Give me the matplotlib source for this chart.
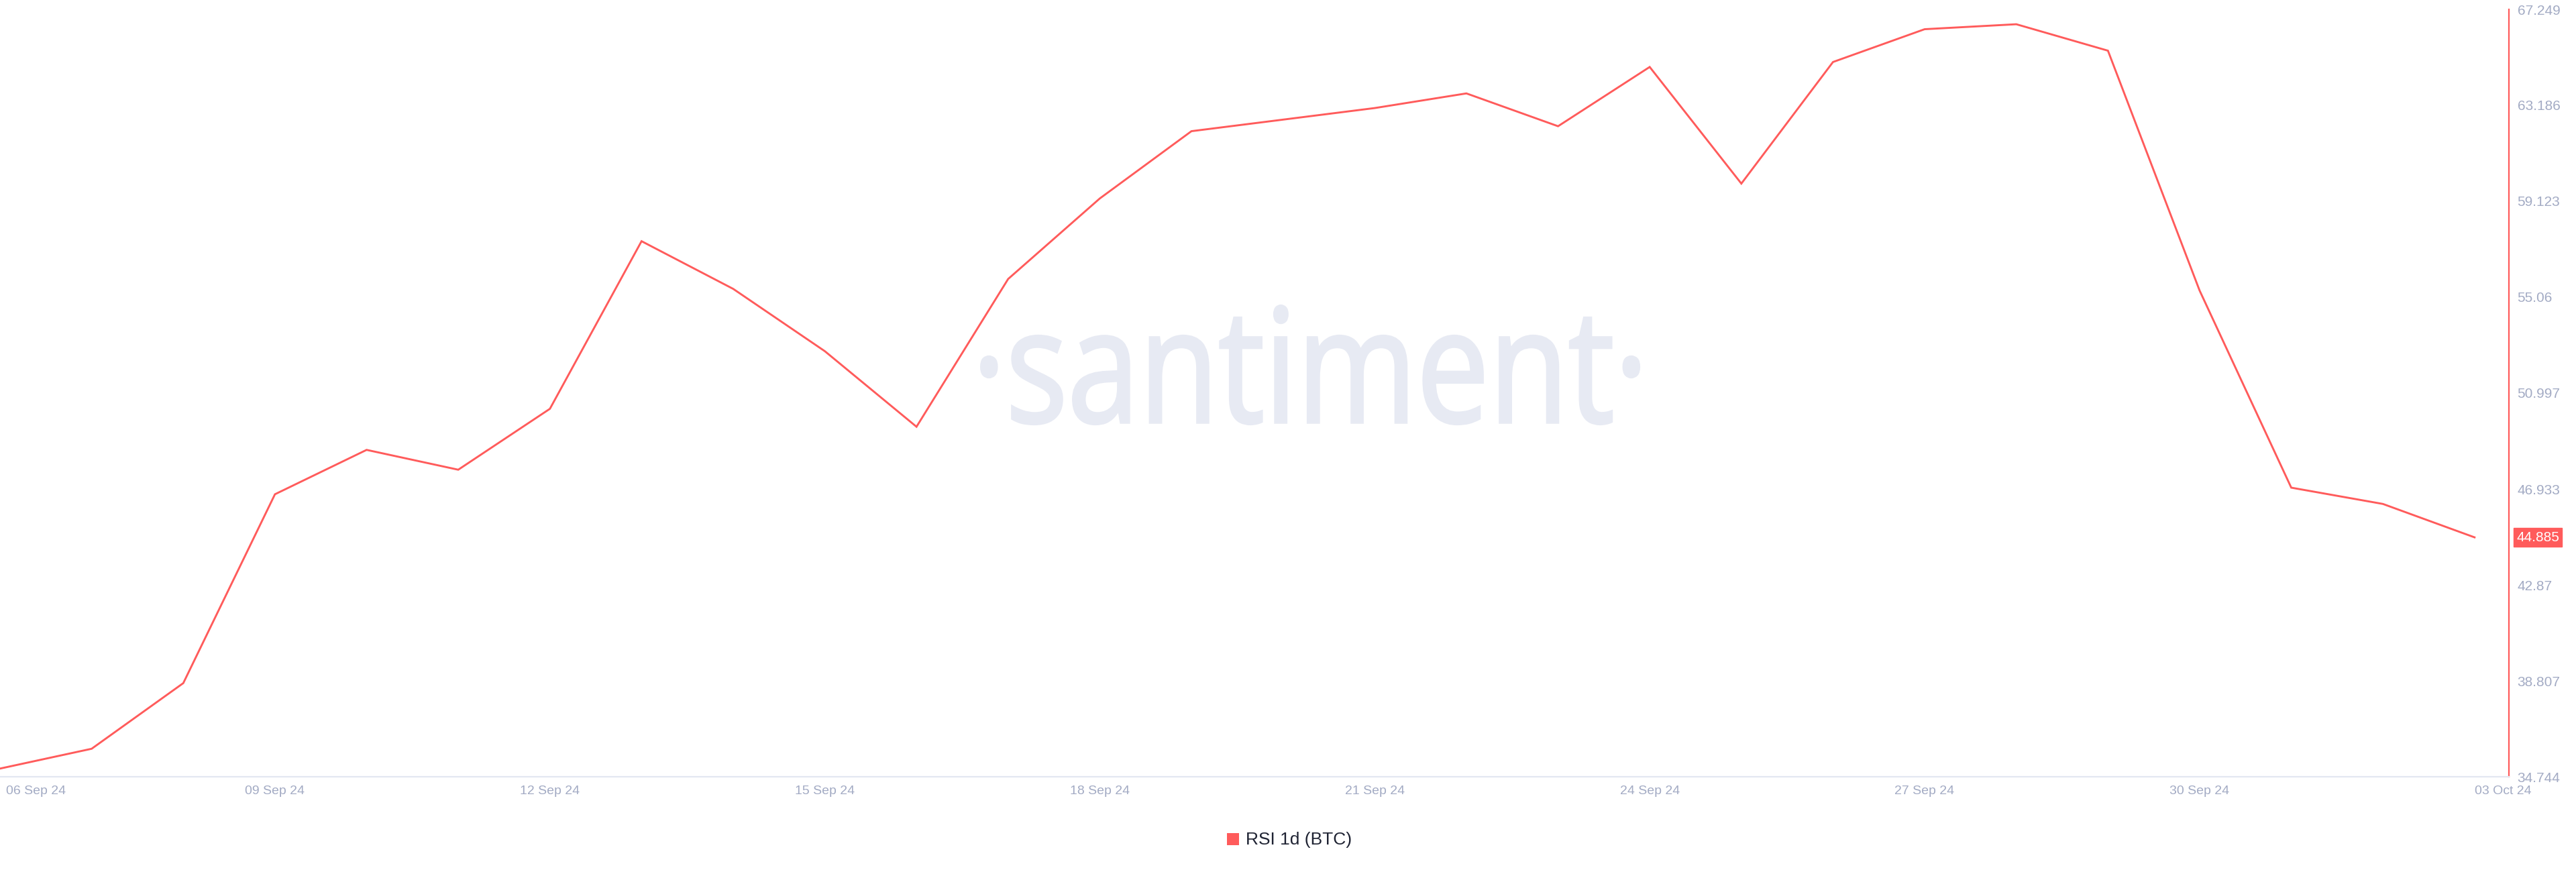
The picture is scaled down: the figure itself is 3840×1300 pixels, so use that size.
import matplotlib
matplotlib.use("Agg")
import matplotlib.pyplot as plt
import matplotlib.dates as mdates
from matplotlib.patches import PathPatch, Rectangle
from matplotlib.textpath import TextPath
from matplotlib.font_manager import FontProperties
from matplotlib.transforms import Affine2D, IdentityTransform, blended_transform_factory, ScaledTranslation
import pandas as pd

# RSI 1d (BTC), daily values
dates = pd.date_range("2024-09-06", "2024-10-03", freq="D")
rsi = [35.09, 35.93, 38.71, 46.71, 48.59, 47.75, 50.33, 57.43, 55.41, 52.77,
       49.57, 55.83, 59.24, 62.09, 62.58, 63.07, 63.69, 62.30, 64.81, 59.87,
       65.02, 66.41, 66.62, 65.50, 55.34, 46.99, 46.30, 44.885]
y_ticks = [34.744, 38.807, 42.87, 46.933, 50.997, 55.06, 59.123, 63.186, 67.249]
y_tick_labels = ["34.744", "38.807", "42.87", "46.933", "50.997", "55.06", "59.123", "63.186", "67.249"]
x_tick_dates = ["2024-09-06", "2024-09-09", "2024-09-12", "2024-09-15", "2024-09-18",
                "2024-09-21", "2024-09-24", "2024-09-27", "2024-09-30", "2024-10-03"]
last_label = "44.885"
series_name = "RSI 1d (BTC)"

RED = "#ff5b5b"
GREY = "#a3abc4"
WM = "#e7eaf3"
W, H = 3840, 1300

plt.rcParams['font.family'] = ['Liberation Sans', 'DejaVu Sans']

fig = plt.figure(figsize=(38.4, 13), dpi=100)
fig.patch.set_facecolor("white")
ax = fig.add_axes([0, (H - 1158) / H, 3740 / W, (1158 - 14) / H])
ax.set_facecolor("none")

# watermark, squeezed into the box it takes in the picture
tp = TextPath((0, 0), "\u00b7santiment\u00b7", size=100,
              prop=FontProperties(family="Open Sans"))
v = tp.vertices
x0, x1 = v[:, 0].min(), v[:, 0].max()
y0, y1 = v[:, 1].min(), v[:, 1].max()
bx0, bx1, by0, by1 = 1449, 2443, H - 632, H - 456
trf = Affine2D().translate(-x0, -y0).scale((bx1 - bx0) / (x1 - x0), (by1 - by0) / (y1 - y0)).translate(bx0, by0)
wm = PathPatch(trf.transform_path(tp), facecolor=WM, edgecolor=WM, lw=3.0,
               transform=IdentityTransform(), zorder=-1)
fig.add_artist(wm)

ax.plot(dates, rsi, color=RED, lw=2.1, solid_joinstyle="miter", zorder=3)

ax.set_ylim(y_ticks[0], y_ticks[-1])
ax.set_xlim(dates[0], dates[-1] + pd.Timedelta(hours=9))

for s in ["top", "left"]:
    ax.spines[s].set_visible(False)
ax.spines["bottom"].set_color("#e3e7f1")
ax.spines["bottom"].set_linewidth(1.6)
ax.spines["right"].set_color(RED)
ax.spines["right"].set_linewidth(1.6)

ax.yaxis.tick_right()
ax.set_yticks(y_ticks)
ax.set_yticklabels(y_tick_labels)
ax.tick_params(axis="y", length=0, pad=9, labelsize=15, labelcolor=GREY)

ax.set_xticks(pd.to_datetime(x_tick_dates))
ax.xaxis.set_major_formatter(mdates.DateFormatter("%d %b %y"))
ax.tick_params(axis="x", length=0, pad=9, labelsize=14, labelcolor=GREY)
xl = ax.get_xticklabels()
xl[0].set_ha("left")
xl[0].set_transform(xl[0].get_transform() + ScaledTranslation(0.09, 0, fig.dpi_scale_trans))
xl[-1].set_ha("left")

# last value tag on the right axis
tr = blended_transform_factory(ax.transAxes, ax.transData)
ax.annotate(last_label, xy=(1.0, rsi[-1]), xycoords=tr, xytext=(8, 0),
            textcoords="offset points", ha="left", va="center", fontsize=15,
            color="white", annotation_clip=False,
            bbox=dict(boxstyle="square,pad=0.2", fc=RED, ec=RED))

# legend
fig.add_artist(Rectangle((1829 / W, (H - 1260) / H), 18 / W, 18 / H,
                         transform=fig.transFigure, facecolor=RED, edgecolor="none"))
fig.text(1857 / W, (H - 1252) / H, series_name, ha="left", va="center",
         fontsize=19, color="#1f2333")

fig.savefig("out.png", dpi=100)
